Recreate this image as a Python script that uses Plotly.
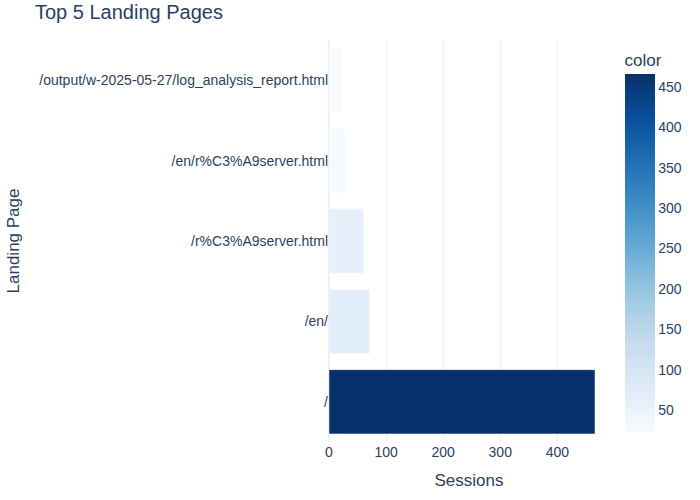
import plotly.graph_objects as go

pages = ["/", "/en/", "/r%C3%A9server.html", "/en/r%C3%A9server.html",
         "/output/w-2025-05-27/log_analysis_report.html"]
sessions = [466, 71, 61, 28, 23]

fig = go.Figure(go.Bar(
    x=sessions, y=pages, orientation="h",
    marker=dict(color=sessions, coloraxis="coloraxis"),
))
fig.update_layout(
    template="plotly_white",
    width=700, height=500,
    font=dict(family="Liberation Sans, Arial, sans-serif", size=14),
    title=dict(text="Top 5 Landing Pages", font=dict(size=20), x=0.05,
               y=0.976, yanchor="middle"),
    margin=dict(t=40, b=58, r=80),
    xaxis_title="Sessions",
    yaxis_title="Landing Page",
    coloraxis=dict(colorscale="Blues",
                   colorbar=dict(title=dict(text="color"), dtick=50)),
)
fig.write_html("out.html")
